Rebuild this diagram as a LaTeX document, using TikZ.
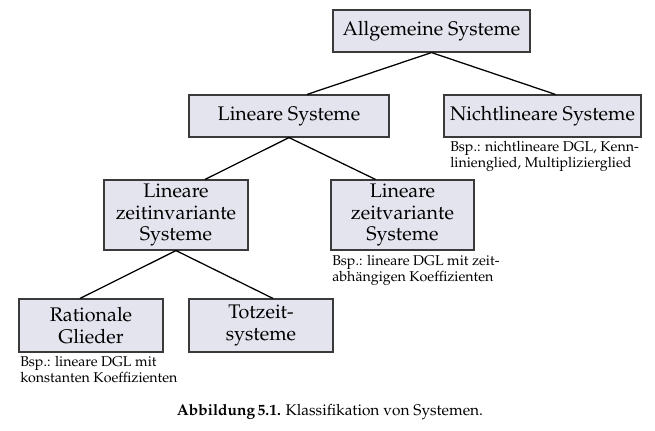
\documentclass[tikz,border=0pt]{standalone}
\usepackage[T1]{fontenc}
\usepackage{mathpazo}
\usepackage{tikz}
\usepackage{xcolor}
\usetikzlibrary{positioning}
\definecolor{Box_Fill}{HTML}{E4E4EF}
\definecolor{Box_Line}{HTML}{3A3A3A}

\begin{document}
\begin{tikzpicture}[x=0.025cm, y=-0.025cm,
    sysbox/.style={draw=Box_Line, line width=0.8pt, fill=Box_Fill, align=center,
        inner sep=0pt, font=\fontsize{14}{15.6}\selectfont},
    bsp/.style={anchor=north west, align=left, inner sep=0pt,
        font=\fontsize{10.1}{11.4}\selectfont},
    branch/.style={line width=0.9pt}]
    \useasboundingbox (0,0) rectangle (655,430);
    % top level
    \node[sysbox, minimum width=4.925cm, minimum height=1.05cm] (allg) at (431.5,31) {Allgemeine Systeme};
    % linear / nonlinear
    \node[sysbox, minimum width=5cm, minimum height=1.05cm] (lin) at (289,116) {Lineare Systeme};
    \node[sysbox, minimum width=4.925cm, minimum height=1.05cm] (nlin) at (542.5,116) {Nichtlineare Systeme};
    \node[bsp] (nlinbsp) at (450,141) {Bsp.: nichtlineare DGL, Kenn-\\linienglied, Multiplizierglied};
    % time invariant / time variant
    \node[sysbox, minimum width=3.6cm, minimum height=1.75cm] (lzi) at (176,215) {Lineare\\zeitinvariante\\Systeme};
    \node[sysbox, minimum width=3.575cm, minimum height=1.75cm] (lzv) at (402.5,215) {Lineare\\zeitvariante\\Systeme};
    \node[bsp] (lzvbsp) at (332,255) {Bsp.: lineare DGL mit zeit-\\abh\"angigen Koeffizienten};
    % bottom level
    \node[sysbox, minimum width=3.6cm, minimum height=1.325cm] (rat) at (91,325.5) {Rationale\\Glieder};
    \node[sysbox, minimum width=3.6cm, minimum height=1.325cm] (tot) at (261,325.5) {Totzeit-\\systeme};
    \node[bsp] (ratbsp) at (20,356) {Bsp.: lineare DGL mit\\konstanten Koeffizienten};
    % branches
    \draw[branch] (allg.south) -- ([xshift=0.45cm]lin.north);
    \draw[branch] (allg.south) -- ([xshift=0.325cm]nlin.north);
    \draw[branch] (lin.south) -- ([xshift=0.725cm]lzi.north);
    \draw[branch] (lin.south) -- ([xshift=-0.675cm]lzv.north);
    \draw[branch] (lzi.south) -- ([xshift=-0.275cm]rat.north);
    \draw[branch] (lzi.south) -- ([xshift=0.3cm]tot.north);
    % caption
    \node[font=\fontsize{11}{13}\selectfont] (capt) at (330,412) {\textbf{Abbildung\,5.1.} Klassifikation von Systemen.};
\end{tikzpicture}
\end{document}
